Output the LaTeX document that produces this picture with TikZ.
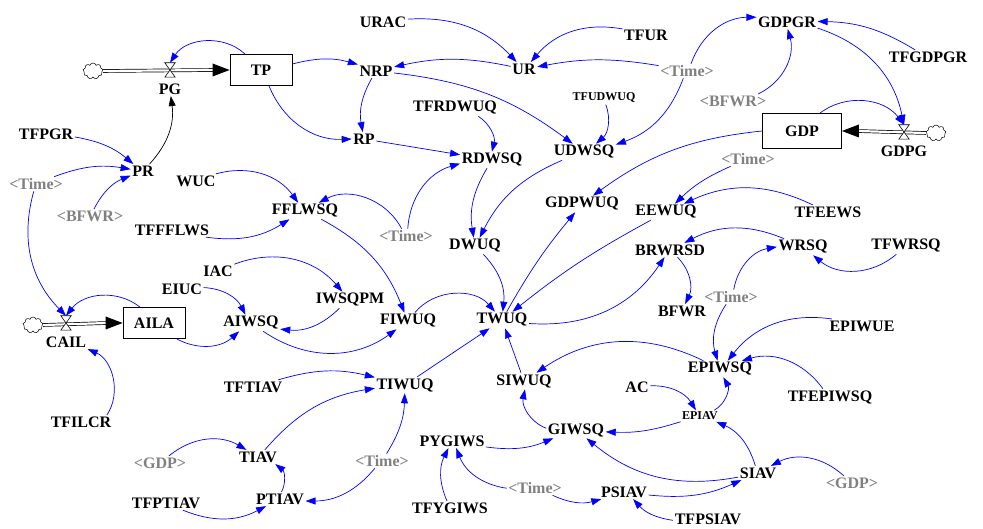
\documentclass[tikz,border=0pt]{standalone}
\usepackage{fontspec}
\setmainfont{Liberation Serif}
\usetikzlibrary{arrows.meta,shapes.symbols}
\definecolor{shgray}{RGB}{128,128,128}
\tikzset{
  var/.style={font=\bfseries\fontsize{16}{18}\selectfont, inner sep=1.5pt},
  smallvar/.style={font=\bfseries\fontsize{12}{14}\selectfont, inner sep=1.5pt},
  shadowvar/.style={var, text=shgray},
  stock/.style={draw, line width=0.8pt, font=\bfseries\fontsize{16}{18}\selectfont},
  link/.style={draw=blue, line width=0.7pt, -{Triangle[length=10pt,width=7pt]}},
  blink/.style={draw=black, line width=0.7pt, -{Triangle[length=10pt,width=7pt]}},
  pipe/.style={draw=black, line width=0.7pt, double=white, double distance=2.2pt},
  valvebox/.style={inner sep=0pt, minimum width=10pt, minimum height=14pt},
  cloudsh/.style={cloud, draw, cloud puffs=9, aspect=1.2, minimum width=20pt, minimum height=16pt, inner sep=0pt, line width=0.5pt, fill=white},
}
\begin{document}
\begin{tikzpicture}[x=1pt,y=1pt]
\useasboundingbox (0,0) rectangle (983,-529);
% stocks
\node[stock, minimum width=62pt, minimum height=31pt] (TP) at (261,-70) {TP};
\node[stock, minimum width=79pt, minimum height=35pt] (GDP) at (802,-131) {GDP};
\node[stock, minimum width=62pt, minimum height=31pt] (AILA) at (154,-323) {AILA};
% valves
\node[valvebox] (PGv) at (170,-70) {};
\node[valvebox] (GDPGv) at (904,-132) {};
\node[valvebox] (CAILv) at (66,-323) {};
% clouds
\node[cloudsh] (c1) at (93,-71) {};
\node[cloudsh] (c2) at (936,-133) {};
\node[cloudsh] (c3) at (33,-325) {};
% pipes
\draw[pipe] (c1.east) -- ([xshift=-15pt]TP.west);
\fill (TP.west) -- ++(-17,6.5) -- ++(0,-13) -- cycle;
\draw[pipe] (c2.west) -- ([xshift=15pt]GDP.east);
\fill (GDP.east) -- ++(17,6.5) -- ++(0,-13) -- cycle;
\draw[pipe] (c3.east) -- ([xshift=-15pt]AILA.west);
\fill (AILA.west) -- ++(-17,6.5) -- ++(0,-13) -- cycle;
\foreach \v in {PGv,GDPGv,CAILv}{
  \filldraw[fill=white, line width=0.6pt] (\v.north west) -- (\v.north east) -- (\v.south west) -- (\v.south east) -- cycle;
}
% variables
\node[var] (PG) at (170,-89) {PG};
\node[var] (GDPG) at (904,-151) {GDPG};
\node[var] (CAIL) at (66,-342) {CAIL};
\node[var] (NRP) at (376,-71) {NRP};
\node[var] (UR) at (524,-69) {UR};
\node[var] (URAC) at (383,-22) {URAC};
\node[var] (TFUR) at (646,-35) {TFUR};
\node[var] (GDPGR) at (787,-22) {GDPGR};
\node[var] (TFGDPGR) at (928,-57) {TFGDPGR};
\node[shadowvar] (time1) at (687,-71) {<Time>};
\node[shadowvar] (bfwr1) at (733,-101) {<BFWR>};
\node[var] (TFRDWUQ) at (455,-108) {TFRDWUQ};
\node[smallvar] (TFUDWUQ) at (604,-98) {TFUDWUQ};
\node[var] (RP) at (364,-139) {RP};
\node[var] (RDWSQ) at (492,-160) {RDWSQ};
\node[var] (UDWSQ) at (584,-152) {UDWSQ};
\node[var] (TFPGR) at (46,-134) {TFPGR};
\node[var] (PR) at (143,-171) {PR};
\node[shadowvar] (time2) at (36,-184) {<Time>};
\node[shadowvar] (bfwr2) at (90,-216) {<BFWR>};
\node[var] (WUC) at (196,-181) {WUC};
\node[var] (FFLWSQ) at (305,-211) {FFLWSQ};
\node[var] (TFFFLWS) at (172,-230) {TFFFLWS};
\node[shadowvar] (time3) at (406,-236) {<Time>};
\node[var] (DWUQ) at (475,-246) {DWUQ};
\node[var] (GDPWUQ) at (582,-204) {GDPWUQ};
\node[shadowvar] (time4) at (748,-159) {<Time>};
\node[var] (EEWUQ) at (666,-212) {EEWUQ};
\node[var] (TFEEWS) at (828,-212) {TFEEWS};
\node[var] (BRWRSD) at (670,-250) {BRWRSD};
\node[var] (WRSQ) at (803,-247) {WRSQ};
\node[var] (TFWRSQ) at (906,-246) {TFWRSQ};
\node[var] (IAC) at (218,-271) {IAC};
\node[var] (EIUC) at (182,-289) {EIUC};
\node[var] (IWSQPM) at (350,-300) {IWSQPM};
\node[var] (AIWSQ) at (251,-323) {AIWSQ};
\node[var] (FIWUQ) at (408,-321) {FIWUQ};
\node[var] (TWUQ) at (502,-320) {TWUQ};
\node[var] (BFWR) at (682,-311) {BFWR};
\node[shadowvar] (time5) at (731,-297) {<Time>};
\node[var] (EPIWUE) at (862,-326) {EPIWUE};
\node[var] (EPIWSQ) at (720,-369) {EPIWSQ};
\node[var] (TFEPIWSQ) at (830,-397) {TFEPIWSQ};
\node[smallvar] (EPIAV) at (700,-416) {EPIAV};
\node[var] (AC) at (637,-387) {AC};
\node[var] (SIWUQ) at (524,-381) {SIWUQ};
\node[var] (TIWUQ) at (405,-385) {TIWUQ};
\node[var] (TFTIAV) at (253,-387) {TFTIAV};
\node[var] (TFILCR) at (81,-422) {TFILCR};
\node[var] (GIWSQ) at (576,-430) {GIWSQ};
\node[var] (PYGIWS) at (452,-441) {PYGIWS};
\node[shadowvar] (gdp1) at (160,-463) {<GDP>};
\node[var] (TIAV) at (258,-457) {TIAV};
\node[shadowvar] (time6) at (382,-461) {<Time>};
\node[var] (SIAV) at (758,-473) {SIAV};
\node[shadowvar] (gdp2) at (852,-483) {<GDP>};
\node[shadowvar] (time7) at (535,-488) {<Time>};
\node[var] (PSIAV) at (624,-492) {PSIAV};
\node[var] (TFPTIAV) at (166,-503) {TFPTIAV};
\node[var] (PTIAV) at (280,-499) {PTIAV};
\node[var] (TFYGIWS) at (450,-508) {TFYGIWS};
\node[var] (TFPSIAV) at (708,-519) {TFPSIAV};
% links
\draw[link] ([xshift=-16pt]TP.north) to[bend right=50] (PGv.north);
\draw[blink] (PR) to[bend right=25] (PG);
\draw[link] ([yshift=6pt]TP.east) to[bend left=15] (NRP);
\draw[link] ([xshift=8pt]TP.south) to[bend right=35] (RP.west);
\draw[link] (NRP) to[bend right=20] (RP);
\draw[link] (NRP) to[bend left=15] (UDWSQ);
\draw[link] (UR) to[bend right=12] (NRP);
\draw[link] (URAC) to[bend left=25] (UR);
\draw[link] (TFUR) to[bend right=30] (UR);
\draw[link] (time1) to[bend right=10] (UR);
\draw[link] (time1) to[bend left=35] (GDPGR);
\draw[link] (time1) to[bend left=25] (UDWSQ);
\draw[link] (bfwr1) to[bend right=40] (GDPGR);
\draw[link] (TFGDPGR) to[bend right=15] (GDPGR);
\draw[link] (GDPGR) to[bend left=30] (GDPGv.north);
\draw[link] ([xshift=18pt]GDP.north) to[bend left=45] (GDPGv.north);
\draw[link] (GDP.west) to[bend right=15] (GDPWUQ);
\draw[link] (TFRDWUQ) to[bend left=35] (RDWSQ);
\draw[link] (RP) to (RDWSQ);
\draw[link] (TFUDWUQ) to[bend left=35] (UDWSQ);
\draw[link] (RDWSQ) to[bend right=20] (DWUQ);
\draw[link] (UDWSQ) to[bend right=20] (DWUQ);
\draw[link] (time3) to[bend left=35] (RDWSQ);
\draw[link] (time3) to[bend right=45] (FFLWSQ);
\draw[link] (TFPGR) to[bend left=15] (PR);
\draw[link] (time2) to[bend left=15] (PR);
\draw[link] (bfwr2) to[bend left=20] (PR);
\draw[link] (time2) to[bend right=30] (CAILv.north);
\draw[link] (WUC) to[bend left=35] (FFLWSQ);
\draw[link] (TFFFLWS) to[bend right=20] (FFLWSQ);
\draw[link] (FFLWSQ) to[bend left=20] (FIWUQ);
\draw[link] ([xshift=-14pt]AILA.north) to[bend right=45] (CAILv.north);
\draw[link] (AILA) to[bend right=35] (AIWSQ);
\draw[link] (EIUC) to[bend left=30] (AIWSQ);
\draw[link] (IAC) to[bend left=35] (IWSQPM);
\draw[link] (IWSQPM) to[bend left=25] (AIWSQ);
\draw[link] (AIWSQ) to[bend right=35] (FIWUQ);
\draw[link] (FIWUQ) to[bend left=50] (TWUQ);
\draw[link] (DWUQ) to[bend left=25] (TWUQ);
\draw[link] (TWUQ) to[bend left=5] (GDPWUQ);
\draw[link] (EEWUQ) to[bend right=5] (TWUQ);
\draw[link] (TWUQ) to[bend right=30] (BRWRSD);
\draw[link] (time4) to[bend right=10] (EEWUQ);
\draw[link] (TFEEWS) to[bend right=25] (EEWUQ);
\draw[link] (WRSQ) to[bend right=25] (BRWRSD);
\draw[link] (BRWRSD) to[bend left=35] (BFWR);
\draw[link] (time5) to[bend left=35] (WRSQ);
\draw[link] (TFWRSQ) to[bend left=40] (WRSQ);
\draw[link] (time5) to[bend right=25] (EPIWSQ);
\draw[link] (EPIWUE) to[bend right=30] (EPIWSQ);
\draw[link] (TFEPIWSQ) to[bend right=35] (EPIWSQ);
\draw[link] (EPIAV) to[bend right=45] (EPIWSQ);
\draw[link] (EPIWSQ) to[bend right=30] (SIWUQ);
\draw[link] (AC) to[bend left=30] (EPIAV);
\draw[link] (EPIAV) to[bend left=10] (GIWSQ);
\draw[link] (SIAV) to[bend right=25] (EPIAV);
\draw[link] (SIAV) to[bend left=25] (GIWSQ);
\draw[link] (gdp2) to[bend right=35] (SIAV);
\draw[link] (PSIAV) to[bend right=15] (SIAV);
\draw[link] (TFPSIAV) to[bend left=20] (PSIAV);
\draw[link] (time7) to[bend right=20] (PSIAV);
\draw[link] (time7) to[bend left=30] (PYGIWS);
\draw[link] (TFYGIWS) to[bend left=25] (PYGIWS);
\draw[link] (PYGIWS) to[bend right=15] (GIWSQ);
\draw[link] (GIWSQ) to[bend left=40] (SIWUQ);
\draw[link] (SIWUQ) to (TWUQ);
\draw[link] (TIWUQ) to (TWUQ);
\draw[link] (TFTIAV) to[bend left=15] (TIWUQ);
\draw[link] (TIAV) to[bend left=20] (TIWUQ);
\draw[link] (time6) to[bend right=15] (TIWUQ);
\draw[link] (time6) to[bend left=25] (PTIAV);
\draw[link] (PTIAV) to[bend right=40] (TIAV);
\draw[link] (TFPTIAV) to[bend right=25] (PTIAV);
\draw[link] (gdp1) to[bend left=35] (TIAV);
\draw[link] ([xshift=-6pt]TFILCR.north east) to[bend right=50] (CAIL.south east);
\end{tikzpicture}
\end{document}
